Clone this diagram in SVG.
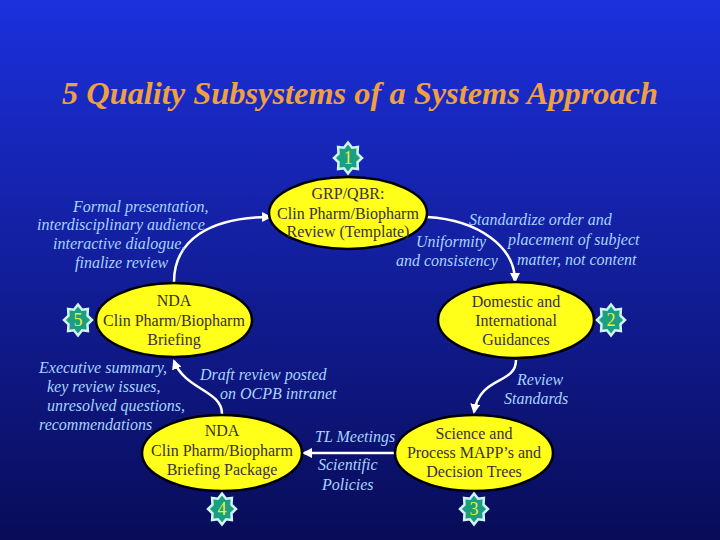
<svg xmlns="http://www.w3.org/2000/svg" xmlns:xlink="http://www.w3.org/1999/xlink" width="720" height="540" viewBox="0 0 720 540">
<style>
.title{font-family:"Liberation Serif",serif;font-size:31px;font-weight:bold;font-style:italic;fill:#f0a040}
.node ellipse{fill:#ffff1a;stroke:#000;stroke-width:2.5}
.node text{font-family:"Liberation Serif",serif;font-size:16px;fill:#3a3030;text-anchor:middle}
.lbl{font-family:"Liberation Serif",serif;font-size:16px;font-style:italic;fill:#a8d4ff}
.badge use{fill:#1a9f80;stroke:#d0f4f0;stroke-width:2.5}
.badge text{font-family:"Liberation Serif",serif;font-size:18px;fill:#e8f040;text-anchor:middle}
.conn path{fill:none;stroke:#fff;stroke-width:2.5;marker-end:url(#ah)}
</style>
<defs>
<linearGradient id="bg" x1="0" y1="0" x2="0" y2="1">
<stop offset="0" stop-color="#1c30dc"/>
<stop offset="1" stop-color="#080c58"/>
</linearGradient>
<marker id="ah" viewBox="0 0 10 10" refX="8" refY="5" markerWidth="4" markerHeight="4" orient="auto" markerUnits="strokeWidth">
<path d="M0,0 L10,5 L0,10 z" fill="#fff"/>
</marker>
<polygon id="star" points="0,-15.5 4.1,-10.3 9.9,-11 9.5,-4.3 14,0 9.5,4.3 9.9,11 4.1,10.3 0,15.5 -4.1,10.3 -9.9,11 -9.5,4.3 -14,0 -9.5,-4.3 -9.9,-11 -4.1,-10.3"/>
</defs>
<rect width="720" height="540" fill="url(#bg)"/>
<text class="title" x="360" y="104" text-anchor="middle" textLength="596" lengthAdjust="spacingAndGlyphs">5 Quality Subsystems of a  Systems Approach</text>

<g id="connectors" class="conn">
<path d="M174,282 C174,240 210,217 270,217"/>
<path d="M427,217 C480,220 515,248 515,281"/>
<path d="M516,360 C516,385 480,375 474,412"/>
<path d="M395,453 L304,453"/>
<path d="M222,414 C222,390 185,390 174,361"/>
</g>

<g id="node1" class="node">
<ellipse cx="348" cy="213" rx="79" ry="36"/>
<text x="348" y="199">GRP/QBR:</text>
<text x="348" y="219">Clin Pharm/Biopharm</text>
<text x="348" y="237">Review (Template)</text>
</g>
<g id="node2" class="node">
<ellipse cx="516" cy="320" rx="78" ry="38"/>
<text x="516" y="307">Domestic and</text>
<text x="516" y="326">International</text>
<text x="516" y="345">Guidances</text>
</g>
<g id="node3" class="node">
<ellipse cx="474" cy="453" rx="79" ry="38"/>
<text x="474" y="439">Science  and</text>
<text x="474" y="458">Process MAPP’s  and</text>
<text x="474" y="477">Decision Trees</text>
</g>
<g id="node4" class="node">
<ellipse cx="222" cy="453" rx="80" ry="38"/>
<text x="222" y="436">NDA</text>
<text x="222" y="456">Clin Pharm/Biopharm</text>
<text x="222" y="475">Briefing Package</text>
</g>
<g id="node5" class="node">
<ellipse cx="174" cy="320" rx="78" ry="37"/>
<text x="174" y="306">NDA</text>
<text x="174" y="326">Clin Pharm/Biopharm</text>
<text x="174" y="345">Briefing</text>
</g>

<g id="badge1" class="badge"><use xlink:href="#star" href="#star" x="348" y="158"/><text x="348" y="164">1</text></g>
<g id="badge2" class="badge"><use xlink:href="#star" href="#star" x="611" y="320"/><text x="611" y="326">2</text></g>
<g id="badge3" class="badge"><use xlink:href="#star" href="#star" x="474" y="509"/><text x="474" y="515">3</text></g>
<g id="badge4" class="badge"><use xlink:href="#star" href="#star" x="222" y="509"/><text x="222" y="515">4</text></g>
<g id="badge5" class="badge"><use xlink:href="#star" href="#star" x="78" y="320"/><text x="78" y="326">5</text></g>

<g id="labels" class="lbl">
<text x="73" y="212">Formal presentation,</text>
<text x="37" y="230">interdisciplinary audience</text>
<text x="53" y="249">interactive dialogue,</text>
<text x="75" y="268">finalize review</text>
<text x="469" y="225">Standardize order and</text>
<text x="508" y="245">placement of  subject</text>
<text x="517" y="265">matter, not content</text>
<text x="416" y="247">Uniformity</text>
<text x="396" y="266">and consistency</text>
<text x="39" y="373">Executive summary,</text>
<text x="47" y="392">key review issues,</text>
<text x="47" y="411">unresolved questions,</text>
<text x="39" y="430">recommendations</text>
<text x="200" y="380">Draft review posted</text>
<text x="220" y="399">on OCPB intranet</text>
<text x="315" y="442">TL Meetings</text>
<text x="318" y="470">Scientific</text>
<text x="322" y="490">Policies</text>
<text x="517" y="385">Review</text>
<text x="504" y="404">Standards</text>
</g>
</svg>
